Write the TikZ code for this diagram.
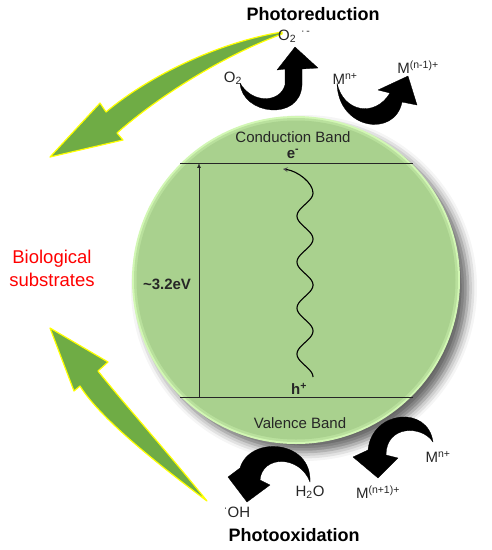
\documentclass[tikz,border=0pt]{standalone}
\usepackage{fontspec}
\setmainfont{Liberation Sans}
\usetikzlibrary{shadows.blur}
\definecolor{bandgreen}{HTML}{A9D18E}
\definecolor{glowgreen}{HTML}{D2F7B4}
\definecolor{leafgreen}{HTML}{6FAC45}
\definecolor{edgeyellow}{HTML}{FFFF00}
\definecolor{inkgray}{HTML}{262626}

\begin{document}
\begin{tikzpicture}[>=stealth, x=1pt, y=-1pt,
  lbl/.style={inner sep=1pt, text=inkgray, font=\fontsize{15}{17}\selectfont},
  boldlbl/.style={lbl, font=\fontsize{15}{17}\selectfont\bfseries},
  heading/.style={inner sep=1pt, font=\fontsize{18}{21}\selectfont\bfseries},
  greenarrow/.style={fill=leafgreen, draw=edgeyellow, line width=1.2pt, line join=round},
  blackarrow/.style={fill=black, draw=black, line width=0.3pt, line join=round}]
\useasboundingbox (0,0) rectangle (492,550);

% ------------------ particle: shadow, glow, body ------------------
\fill[glowgreen, blur shadow={shadow xshift=8pt, shadow yshift=-8pt, shadow blur radius=9pt, shadow opacity=60}] (296,280) circle (164);
\fill[bandgreen!60!glowgreen] (296,280) circle (162);
\fill[bandgreen] (296,280) circle (159.5);

% ------------------ band edges ------------------
\coordinate (cbl) at (180,163);
\coordinate (cbr) at (413,163);
\coordinate (vbl) at (180,397);
\coordinate (vbr) at (413,397);
\coordinate (gaptop) at (199,163);
\coordinate (gapbot) at (199,397);
\draw[inkgray, line width=0.8pt] (cbl) -- (cbr);
\draw[inkgray, line width=0.8pt] (vbl) -- (vbr);
\draw[inkgray, line width=0.7pt, -latex] (gapbot) -- (gaptop);

% excitation (wavy)
\coordinate (wavetip) at (283,169);
\draw[line width=1.1pt, ->] plot[domain=0:184, samples=140, smooth] ({305+8*cos(7.826*\x)}, {377-\x})
  .. controls (313,183) and (298,171) .. (wavetip);

\node[lbl] (cb) at (293,137) {Conduction Band};
\node[boldlbl] (elec) at (293,154) {e\textsuperscript{-}};
\node[boldlbl] (hole) at (299,389) {h\textsuperscript{+}};
\node[lbl] (vb) at (300,423) {Valence Band};
\node[boldlbl] (gap) at (167,284) {\textasciitilde3.2eV};

% ------------------ green arrows to substrates ------------------
\filldraw[greenarrow] (282,32) .. controls (220,42) and (150,75) .. (106,112) -- (100,103) -- (50,157)
  -- (123,140) -- (117,133) .. controls (160,95) and (225,55) .. (282,34) -- cycle;
\filldraw[greenarrow] (207,501) .. controls (155,462) and (100,418) .. (80,386) -- (74,391) -- (50,328)
  -- (108,362) -- (98,371) .. controls (125,405) and (170,455) .. (207,501) -- cycle;

\node[text=red, align=center, font=\fontsize{18.5}{23}\selectfont] (bio) at (52,268) {Biological\\substrates};

% ------------------ photoreduction (top) ------------------
\begin{scope}
  \filldraw[blackarrow] (240,83) .. controls (242,115) and (300,122) .. (302,85) -- (302,69) -- (318,68)
    -- (295,47) -- (277,70) -- (285,69) -- (285,85) .. controls (280,103) and (252,104) .. (240,83) -- cycle;
  \filldraw[blackarrow] (337,83) .. controls (338,130) and (395,138) .. (402,102) -- (417,105) -- (408,76)
    -- (378,90) -- (390,93) .. controls (375,118) and (343,112) .. (337,83) -- cycle;

  \node[heading] (photored) at (313,14) {Photoreduction};
  \node[lbl, anchor=west] (superox) at (277,36) {O\textsubscript{2}\hspace{5pt}\textsuperscript{·\,-}};
  \node[lbl] (oxy) at (233,78) {O\textsubscript{2}};
  \node[lbl] (mntop) at (345,79) {M\textsuperscript{n+}};
  \node[lbl] (mred) at (418,67) {M\textsuperscript{(n-1)+}};
\end{scope}

% ------------------ photooxidation (bottom) ------------------
\begin{scope}
  \filldraw[blackarrow] (310,482) .. controls (312,440) and (250,435) .. (240,468) -- (228,477) -- (247,502)
    -- (270,485) -- (260,480) .. controls (262,455) and (300,455) .. (310,482) -- cycle;
  \filldraw[blackarrow] (433,442) .. controls (428,405) and (372,410) .. (368,450) -- (353,457) -- (378,478)
    -- (398,458) -- (386,455) .. controls (386,425) and (422,425) .. (433,442) -- cycle;

  \node[heading] (photoox) at (294,535) {Photooxidation};
  \node[lbl] (hydrox) at (237,512) {\textsuperscript{·}OH};
  \node[lbl] (water) at (310,492) {H\textsubscript{2}O};
  \node[lbl] (mox) at (378,492) {M\textsuperscript{(n+1)+}};
  \node[lbl] (mnbot) at (438,457) {M\textsuperscript{n+}};
\end{scope}
\end{tikzpicture}
\end{document}
